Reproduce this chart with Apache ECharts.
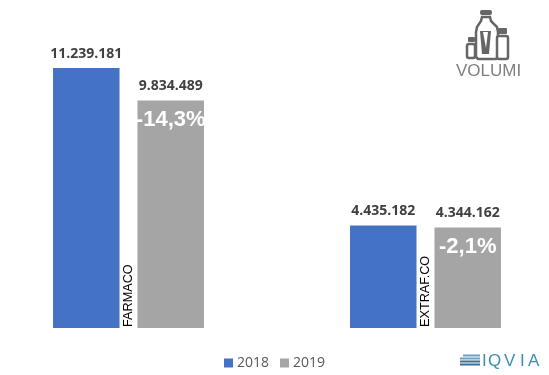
<!DOCTYPE html>
<html>
<head>
<meta charset="utf-8">
<style>html,body{margin:0;padding:0;background:#fff}#main{width:549px;height:375px}</style>
<script src="https://cdn.jsdelivr.net/npm/echarts@6/dist/echarts.min.js"></script>
</head>
<body>
<div id="main"></div>
<script>
const categories = ['FARMACO', 'EXTRAF.CO'];
const values2018 = [11239181, 4435182];
const values2019 = [9834489, 4344162];
const deltas = ['-14,3%', '-2,1%'];

const fmt = v => String(v).replace(/\B(?=(\d{3})+$)/g, '.');
const chart = echarts.init(document.getElementById('main'));

const logoLetter = (text, left) => ({
  type: 'text', left, top: 353,
  style: {text, fill: '#3a8fb0', fontSize: 17, fontFamily: 'Liberation Sans'}
});

chart.setOption({
  animation: false,
  backgroundColor: '#fff',
  textStyle: {fontFamily: 'Liberation Sans'},
  grid: {left: -20, width: 594, top: 27.3, height: 300.7, outerBoundsMode: 'none'},
  legend: {
    data: ['2018', '2019'],
    left: 224, top: 356, padding: 0,
    icon: 'rect', itemWidth: 9, itemHeight: 9, itemGap: 11,
    textStyle: {color: '#595959', fontSize: 14, fontFamily: 'Open Sans', padding: [0, 0, 0, -1]}
  },
  xAxis: {
    type: 'category',
    data: categories,
    axisLine: {show: false},
    axisTick: {show: false},
    z: 5,
    axisLabel: {inside: true, rotate: 90, color: '#000', fontSize: 12.7, margin: 1}
  },
  yAxis: {type: 'value', min: 0, max: 13000000, show: false},
  series: [
    {
      name: '2018', type: 'bar', data: values2018,
      barWidth: 66.5, barGap: '27%',
      itemStyle: {color: '#4472C4'},
      label: {
        show: true, position: 'top', distance: 7,
        formatter: p => fmt(p.value),
        color: '#404040', fontWeight: 'bold', fontSize: 14, fontFamily: 'Open Sans'
      }
    },
    {
      name: '2019', type: 'bar', data: values2019,
      barWidth: 66.5,
      itemStyle: {color: '#A5A5A5'},
      label: {
        show: true, position: 'insideTop', distance: 0, offset: [0, -28],
        formatter: p => '{val|' + fmt(p.value) + '}\n{delta|' + deltas[p.dataIndex] + '}',
        rich: {
          val: {color: '#404040', fontWeight: 'bold', fontSize: 14, fontFamily: 'Open Sans', lineHeight: 27, height: 27},
          delta: {color: '#fff', fontWeight: 'bold', fontSize: 22, fontFamily: 'Liberation Sans', lineHeight: 40, height: 40}
        }
      }
    }
  ],
  graphic: [
    // flacone grande
    {type: 'rect', shape: {x: 480, y: 10, width: 12, height: 5, r: 2}, style: {fill: '#666'}},
    {type: 'polygon', shape: {points: [[482, 17], [490, 17], [491, 21], [497, 27], [498, 32], [498, 57], [496, 59], [478, 59], [476, 57], [476, 32], [477, 27], [481, 21]]},
      style: {fill: '#fff', stroke: '#666', lineWidth: 2.5}},
    {type: 'polygon', shape: {points: [[480, 31], [491, 31], [489, 54], [482, 54]]}, style: {fill: '#666'}},
    {type: 'polygon', shape: {points: [[483, 32], [488, 32], [486, 48]]}, style: {fill: '#fff'}},
    // flaconi piccoli
    {type: 'rect', shape: {x: 468, y: 37, width: 7, height: 5, r: 1}, style: {fill: '#666'}},
    {type: 'rect', shape: {x: 467, y: 44, width: 8, height: 14, r: 2}, style: {fill: '#fff', stroke: '#666', lineWidth: 2.5}},
    {type: 'rect', shape: {x: 498, y: 28, width: 9, height: 6, r: 1}, style: {fill: '#666'}},
    {type: 'rect', shape: {x: 497, y: 36, width: 11, height: 23, r: 2}, style: {fill: '#fff', stroke: '#666', lineWidth: 2.5}},
    {type: 'text', left: 456, top: 63, style: {text: 'VOLUMI', fill: '#7f7f7f', fontSize: 17, fontFamily: 'Liberation Sans'}},
    // logo IQVIA
    {type: 'group', children: [0, 1, 2, 3].map(i => ({
      type: 'rect', shape: {x: 460 + (i === 0 ? 3 : 0), y: 354.5 + i * 3, width: 20 - (i === 0 ? 3 : 0), height: 2},
      style: {fill: i < 2 ? '#6f9fbf' : '#3b6f95'}
    }))},
    logoLetter('I', 482),
    logoLetter('Q', 488),
    logoLetter('V', 504),
    logoLetter('I', 520),
    logoLetter('A', 528)
  ]
});
</script>
</body>
</html>
